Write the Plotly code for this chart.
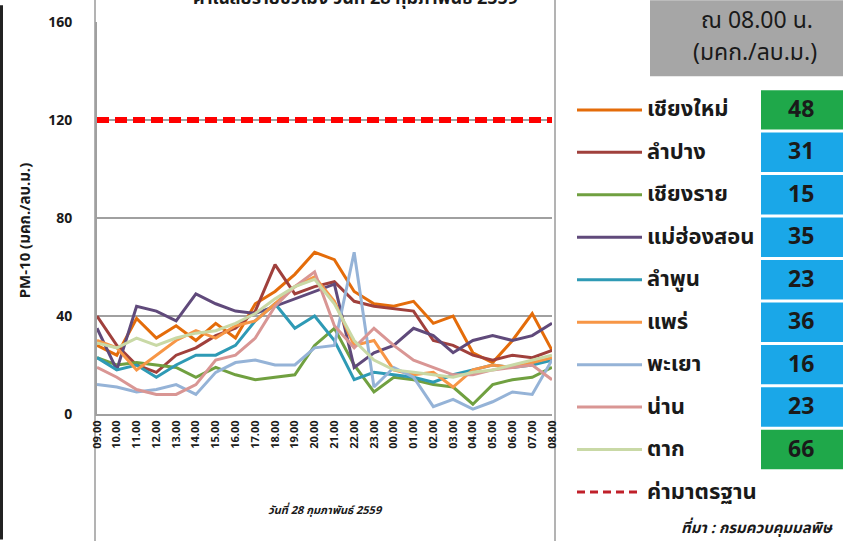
import plotly.graph_objects as go

hours = ["09.00", "10.00", "11.00", "12.00", "13.00", "14.00", "15.00", "16.00",
         "17.00", "18.00", "19.00", "20.00", "21.00", "22.00", "23.00", "00.00",
         "01.00", "02.00", "03.00", "04.00", "05.00", "06.00", "07.00", "08.00"]

provinces = ["เชียงใหม่", "ลำปาง", "เชียงราย", "แม่ฮ่องสอน", "ลำพูน",
             "แพร่", "พะเยา", "น่าน", "ตาก"]
colors = ["#E46C0A", "#A0403C", "#70A040", "#604A7B", "#2E9AB5",
          "#F79646", "#95B3D7", "#D99694", "#C9D9A6"]

chiangmai = [28, 24, 39, 31, 36, 30, 37, 31, 45, 50, 57, 66, 63, 50, 45, 44, 46, 37, 40, 25, 21, 30, 41, 26]
lampang = [40, 28, 20, 17, 24, 27, 32, 35, 42, 61, 49, 52, 54, 46, 44, 43, 42, 30, 28, 24, 22, 24, 23, 26]
chiangrai = [23, 20, 21, 20, 19, 15, 19, 16, 14, 15, 16, 28, 35, 20, 9, 15, 14, 12, 11, 4, 12, 14, 15, 19]
maehongson = [35, 18, 44, 42, 38, 49, 45, 42, 41, 44, 47, 50, 53, 19, 25, 28, 35, 32, 25, 30, 32, 30, 32, 37]
lamphun = [23, 18, 20, 15, 20, 24, 24, 28, 38, 45, 35, 40, 30, 14, 17, 16, 15, 13, 16, 18, 20, 19, 20, 22]
phrae = [30, 27, 18, 24, 30, 34, 31, 36, 38, 45, 52, 56, 46, 28, 30, 18, 16, 17, 11, 18, 20, 19, 21, 23]
phayao = [12, 11, 9, 10, 12, 8, 17, 21, 22, 20, 20, 27, 28, 66, 11, 19, 15, 3, 6, 2, 5, 9, 8, 22]
nan = [19, 15, 10, 8, 8, 12, 22, 24, 31, 44, 52, 58, 36, 27, 35, 28, 22, 19, 16, 16, 18, 19, 20, 14]
tak = [29, 27, 31, 28, 31, 33, 34, 37, 41, 47, 52, 55, 45, 30, 22, 18, 17, 16, 15, 17, 18, 20, 22, 24]
series = [chiangmai, lampang, chiangrai, maehongson, lamphun, phrae, phayao, nan, tak]

standard_name = "ค่ามาตรฐาน"
standard = [120] * 24

values_0800 = [48, 31, 15, 35, 23, 36, 16, 23, 66]
box_colors = ["#1FA84A", "#1AA7E8", "#1AA7E8", "#1AA7E8", "#1AA7E8",
              "#1AA7E8", "#1AA7E8", "#1AA7E8", "#1FA84A"]

title_text = "ค่าเฉลี่ยรายชั่วโมง วันที่ 28 กุมภาพันธ์ 2559"
box_title = ["ณ 08.00 น.", "(มคก./ลบ.ม.)"]
y_title = "PM-10 (มคก./ลบ.ม.)"
x_title = "วันที่ 28 กุมภาพันธ์ 2559"
source_text = "ที่มา : กรมควบคุมมลพิษ"

W, H = 843, 541
L, R, T, B = 97, 552, 17, 414
FONT = "Noto Sans Thai, Tahoma, Noto Sans, sans-serif"


def px(x):
    return (x - L) / (R - L)


def py(y):
    return (B - y) / (B - T)


def note(text, x, y, size, xanchor="center", yanchor="middle", **kw):
    return dict(text=text, xref="paper", yref="paper", x=px(x), y=py(y),
                xanchor=xanchor, yanchor=yanchor, showarrow=False,
                font=dict(family=FONT, size=size, color="#1a1a1a"), **kw)


fig = go.Figure()
fig.add_trace(go.Scatter(x=hours, y=standard, mode="lines", name=standard_name,
                         line=dict(color="#FF0000", width=6, dash="12px,6px"),
                         showlegend=False))
for name, vals, col in zip(provinces, series, colors):
    fig.add_trace(go.Scatter(x=hours, y=vals, mode="lines", name=name,
                             line=dict(color=col, width=3), showlegend=False))

shapes = []
annotations = []

# chart area border
shapes.append(dict(type="rect", xref="paper", yref="paper",
                   x0=px(95), x1=px(555), y0=py(560), y1=py(-10),
                   line=dict(color="#9A9A9A", width=1.5), fillcolor="rgba(0,0,0,0)",
                   layer="below"))
# left edge dark line
shapes.append(dict(type="line", xref="paper", yref="paper",
                   x0=px(1.5), x1=px(1.5), y0=py(0), y1=py(541),
                   line=dict(color="#222222", width=3)))

# gray header box
shapes.append(dict(type="rect", xref="paper", yref="paper",
                   x0=px(650), x1=px(850), y0=py(72), y1=py(-5),
                   line=dict(width=0), fillcolor="#A6A6A6"))
annotations.append(note(box_title[0], 757, 16, 23))
annotations.append(note(box_title[1], 755, 48, 23))

# manual legend + value boxes
y0 = 106
step = 43
for k, (name, col, v, bc) in enumerate(zip(provinces, colors, values_0800, box_colors)):
    yc = y0 + step * k
    shapes.append(dict(type="line", xref="paper", yref="paper",
                       x0=px(577), x1=px(642), y0=py(yc), y1=py(yc),
                       line=dict(color=col, width=3)))
    annotations.append(note("<b>" + name + "</b>", 645, yc, 22, xanchor="left"))
    shapes.append(dict(type="rect", xref="paper", yref="paper",
                       x0=px(760), x1=px(845), y0=py(yc + 21), y1=py(yc - 21),
                       line=dict(color="white", width=2), fillcolor=bc))
    annotations.append(note("<b>" + str(v) + "</b>", 801, yc, 23))

ys = y0 + step * len(provinces)
shapes.append(dict(type="line", xref="paper", yref="paper",
                   x0=px(577), x1=px(642), y0=py(ys), y1=py(ys),
                   line=dict(color="#C0202A", width=3, dash="8px,5px")))
annotations.append(note("<b>" + standard_name + "</b>", 645, ys, 22, xanchor="left"))
annotations.append(note("<b><i>" + source_text + "</i></b>", 835, 530, 15, xanchor="right"))

# title (cut off at top as in reference)
annotations.append(note("<b>" + title_text + "</b>", 355, 9, 18, yanchor="bottom"))
# axis titles
annotations.append(note("<b>" + y_title + "</b>", 25, 228, 15, textangle=-90))
annotations.append(note("<b><i>" + x_title + "</i></b>", 325, 512, 11))

fig.update_layout(
    width=W, height=H,
    margin=dict(l=L, r=W - R, t=T, b=H - B),
    paper_bgcolor="white", plot_bgcolor="white",
    showlegend=False,
    shapes=shapes, annotations=annotations,
    font=dict(family=FONT, color="#1a1a1a"),
)
fig.update_xaxes(type="category", tickangle=-90, showgrid=False,
                 showline=True, linecolor="#A0A0A0", linewidth=2,
                 tickfont=dict(family=FONT, size=11, color="#1a1a1a", weight="bold"),
                 ticks="", fixedrange=True)
fig.update_yaxes(range=[0, 160], tickvals=[0, 40, 80, 120, 160],
                 showgrid=True, gridcolor="#A0A0A0", gridwidth=1.5,
                 showline=True, linecolor="#A0A0A0", linewidth=2, zeroline=False,
                 ticks="", ticklabelstandoff=20,
                 tickfont=dict(family=FONT, size=14, color="#1a1a1a", weight="bold"),
                 fixedrange=True)

fig.write_html("out.html", config={"displayModeBar": False},
               post_script="document.body.style.margin='0';document.body.style.overflow='hidden';")
